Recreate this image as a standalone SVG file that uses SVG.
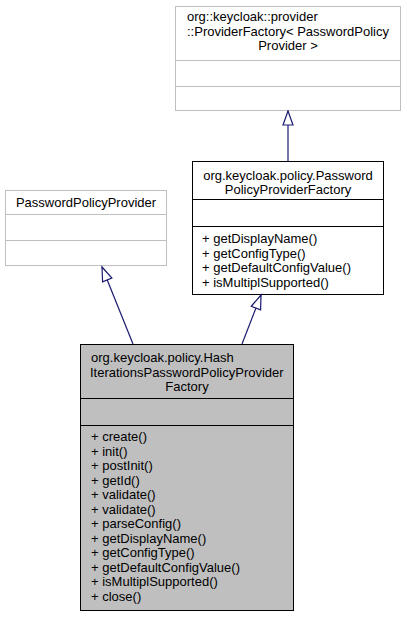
<svg xmlns="http://www.w3.org/2000/svg" width="407" height="617" viewBox="0 0 407 617">
<defs>
<style>
text{font-family:"Liberation Sans",Arial,sans-serif;font-size:13px;fill:#000}
.c{text-anchor:middle}
.gray{fill:#fff;stroke:#bfbfbf;stroke-width:1}
.gline{stroke:#bfbfbf;stroke-width:1}
.doc{fill:#fff;stroke:#000;stroke-width:1}
.cur{fill:#bfbfbf;stroke:#000;stroke-width:1}
.bline{stroke:#000;stroke-width:1}
.edge{stroke:#191970;stroke-width:1.2;fill:none;marker-end:url(#tri)}
</style>
<marker id="tri" markerUnits="userSpaceOnUse" markerWidth="16" markerHeight="12" refX="14" refY="5.5" orient="auto" overflow="visible">
<path d="M0,0.5 L14,5.5 L0,10.5 Z" fill="#fff" stroke="#191970" stroke-width="1.2"/>
</marker>
</defs>
<rect width="407" height="617" fill="#fff"/>
<g id="node-providerfactory">
<rect class="gray" x="175.5" y="6.5" width="225" height="104"/>
<line class="gline" x1="175.5" y1="60.5" x2="400.5" y2="60.5"/>
<line class="gline" x1="175.5" y1="86.5" x2="400.5" y2="86.5"/>
<text x="187" y="21">org::keycloak::provider</text>
<text x="187" y="36">::ProviderFactory&lt; PasswordPolicy</text>
<text class="c" x="288" y="50">Provider &gt;</text>
</g>
<g id="node-passwordpolicyprovider">
<rect class="gray" x="5.5" y="190.5" width="161" height="75"/>
<line class="gline" x1="5.5" y1="214.5" x2="166.5" y2="214.5"/>
<line class="gline" x1="5.5" y1="240.5" x2="166.5" y2="240.5"/>
<text class="c" x="86" y="207">PasswordPolicyProvider</text>
</g>
<g id="node-passwordpolicyproviderfactory">
<rect class="doc" x="192.5" y="161.5" width="191" height="133"/>
<line class="bline" x1="192.5" y1="199.5" x2="383.5" y2="199.5"/>
<line class="bline" x1="192.5" y1="226.5" x2="383.5" y2="226.5"/>
<text class="c" x="288" y="180">org.keycloak.policy.Password</text>
<text class="c" x="288" y="194">PolicyProviderFactory</text>
<text x="202" y="243">+ getDisplayName()</text>
<text x="202" y="257.5">+ getConfigType()</text>
<text x="202" y="272">+ getDefaultConfigValue()</text>
<text x="202" y="286.5">+ isMultiplSupported()</text>
</g>
<g id="node-hashiterations">
<rect class="cur" x="80.5" y="344.5" width="213" height="266"/>
<line class="bline" x1="80.5" y1="398.5" x2="293.5" y2="398.5"/>
<line class="bline" x1="80.5" y1="425.5" x2="293.5" y2="425.5"/>
<text x="91" y="362">org.keycloak.policy.Hash</text>
<text x="90" y="377">IterationsPasswordPolicyProvider</text>
<text class="c" x="187" y="391">Factory</text>
<text x="91" y="441">+ create()</text>
<text x="91" y="455.5">+ init()</text>
<text x="91" y="470">+ postInit()</text>
<text x="91" y="484.5">+ getId()</text>
<text x="91" y="499">+ validate()</text>
<text x="91" y="513.5">+ validate()</text>
<text x="91" y="528">+ parseConfig()</text>
<text x="91" y="542.5">+ getDisplayName()</text>
<text x="91" y="557">+ getConfigType()</text>
<text x="91" y="571.5">+ getDefaultConfigValue()</text>
<text x="91" y="586">+ isMultiplSupported()</text>
<text x="91" y="600.5">+ close()</text>
</g>
<g id="connectors">
<path class="edge" d="M133,344 L102,267"/>
<path class="edge" d="M242,344 L261,295"/>
<path class="edge" d="M288,161 L288,111"/>
</g>
</svg>
